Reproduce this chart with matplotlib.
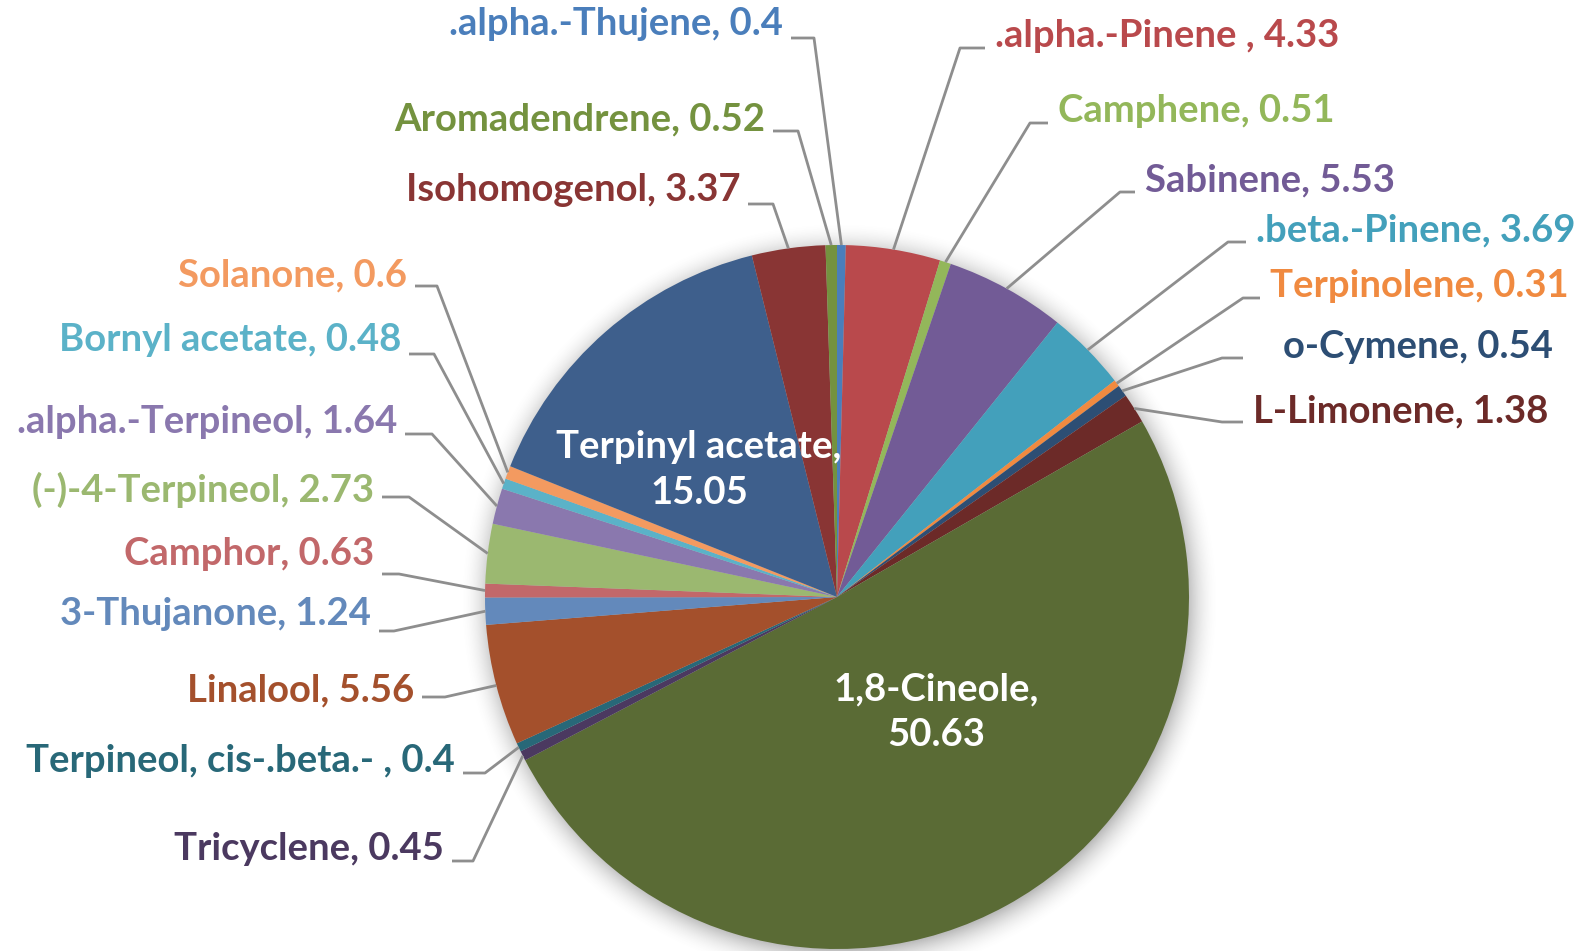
import numpy as np
import matplotlib.pyplot as plt

# composition, clockwise from 12 o'clock
names = ['.alpha.-Thujene', '.alpha.-Pinene ', 'Camphene', 'Sabinene', '.beta.-Pinene',
         'Terpinolene', 'o-Cymene', 'L-Limonene', '1,8-Cineole', 'Tricyclene',
         'Terpineol, cis-.beta.- ', 'Linalool', '3-Thujanone', 'Camphor', '(-)-4-Terpineol',
         '.alpha.-Terpineol', 'Bornyl acetate', 'Solanone', 'Terpinyl acetate',
         'Isohomogenol', 'Aromadendrene']
values = [0.4, 4.33, 0.51, 5.53, 3.69, 0.31, 0.54, 1.38, 50.63, 0.45, 0.4, 5.56,
          1.24, 0.63, 2.73, 1.64, 0.48, 0.6, 15.05, 3.37, 0.52]
value_text = ['0.4', '4.33', '0.51', '5.53', '3.69', '0.31', '0.54', '1.38', '50.63', '0.45',
              '0.4', '5.56', '1.24', '0.63', '2.73', '1.64', '0.48', '0.6', '15.05', '3.37', '0.52']

colors = ['#4A7EBB', '#B9494C', '#93B75A', '#725B96', '#43A0BB', '#F08A40', '#2D4E74',
          '#6C2A28', '#5A6B35', '#4B3960', '#286878', '#A4502C', '#6389BB', '#C2686A',
          '#9BB870', '#8A78AE', '#5BB2C8', '#F39A60', '#3E5F8C', '#893534', '#74923F']

# label layout in pixel coords: (text x, text y, align, leader y, elbow x)
# None -> label inside the slice
lab_pos = [
    (783, 24, 'right', 38, 814),
    (995, 36, 'left', 48, 960),
    (1058, 111, 'left', 123, 1030),
    (1145, 180, 'left', 192, 1120),
    (1256, 230, 'left', 242, 1228),
    (1270, 286, 'left', 298, 1243),
    (1283, 347, 'left', 358, 1222),
    (1253, 411, 'left', 422, 1222),
    None,
    (444, 849, 'right', 861, 473),
    (455, 761, 'right', 773, 485),
    (414, 690, 'right', 697, 445),
    (371, 614, 'right', 631, 394),
    (374, 554, 'right', 574, 399),
    (374, 490, 'right', 497, 409),
    (397, 422, 'right', 434, 432),
    (401, 340, 'right', 354, 434),
    (407, 275, 'right', 286, 437),
    None,
    (740, 190, 'right', 204, 773),
    (765, 119, 'right', 131, 798),
]
inside_pos = {8: (936, 712), 18: (699, 470)}

cx, cy, r = 837, 597, 352
W, H = 1584, 951

fig = plt.figure(figsize=(W / 100, H / 100), dpi=100)
ax = fig.add_axes([0, 0, 1, 1])

# soft shadow round the pie
yy, xx = np.mgrid[0:H, 0:W]
d = np.hypot(xx - (cx + 2), yy - (cy + 4))
a = np.clip(1 - (d - r + 4) / 32, 0, 1) ** 2 * 0.4
shadow = np.zeros((H, W, 4))
shadow[..., :3] = 0.35
shadow[..., 3] = a
ax.imshow(shadow, extent=(0, W, H, 0), origin='upper', zorder=0)

# y axis is flipped (pixel coords), so counterclock=True turns visually clockwise
wedges, _ = ax.pie(values, colors=colors, startangle=-90, counterclock=True,
                   center=(cx, cy), radius=r, wedgeprops=dict(linewidth=0))
for w in wedges:
    w.set_zorder(2)

font = dict(family=['Lato', 'DejaVu Sans'], fontweight='bold', fontsize=27.5)

for i, w in enumerate(wedges):
    if lab_pos[i] is None:
        x, y = inside_pos[i]
        ax.text(x, y, names[i] + ',\n' + value_text[i], ha='center', va='center',
                color='white', linespacing=1.42, zorder=5, **font)
        continue
    tx, ty, align, ly, ex = lab_pos[i]
    ax.text(tx, ty, names[i] + ', ' + value_text[i], ha=align, va='center',
            color=colors[i], zorder=5, **font)
    mid = np.deg2rad((w.theta1 + w.theta2) / 2)
    px, py = cx + r * np.cos(mid), cy + r * np.sin(mid)
    sx = tx + 8 if align == 'right' else tx - 10
    if i == 6:
        sx = 1243
    ax.plot([sx, ex, px], [ly, ly, py], color='#8E8E8E', lw=2.0, zorder=3,
            solid_capstyle='butt')

ax.set_xlim(0, W)
ax.set_ylim(H, 0)
ax.set_aspect('equal')
ax.axis('off')

fig.savefig('out.png', dpi=100)
